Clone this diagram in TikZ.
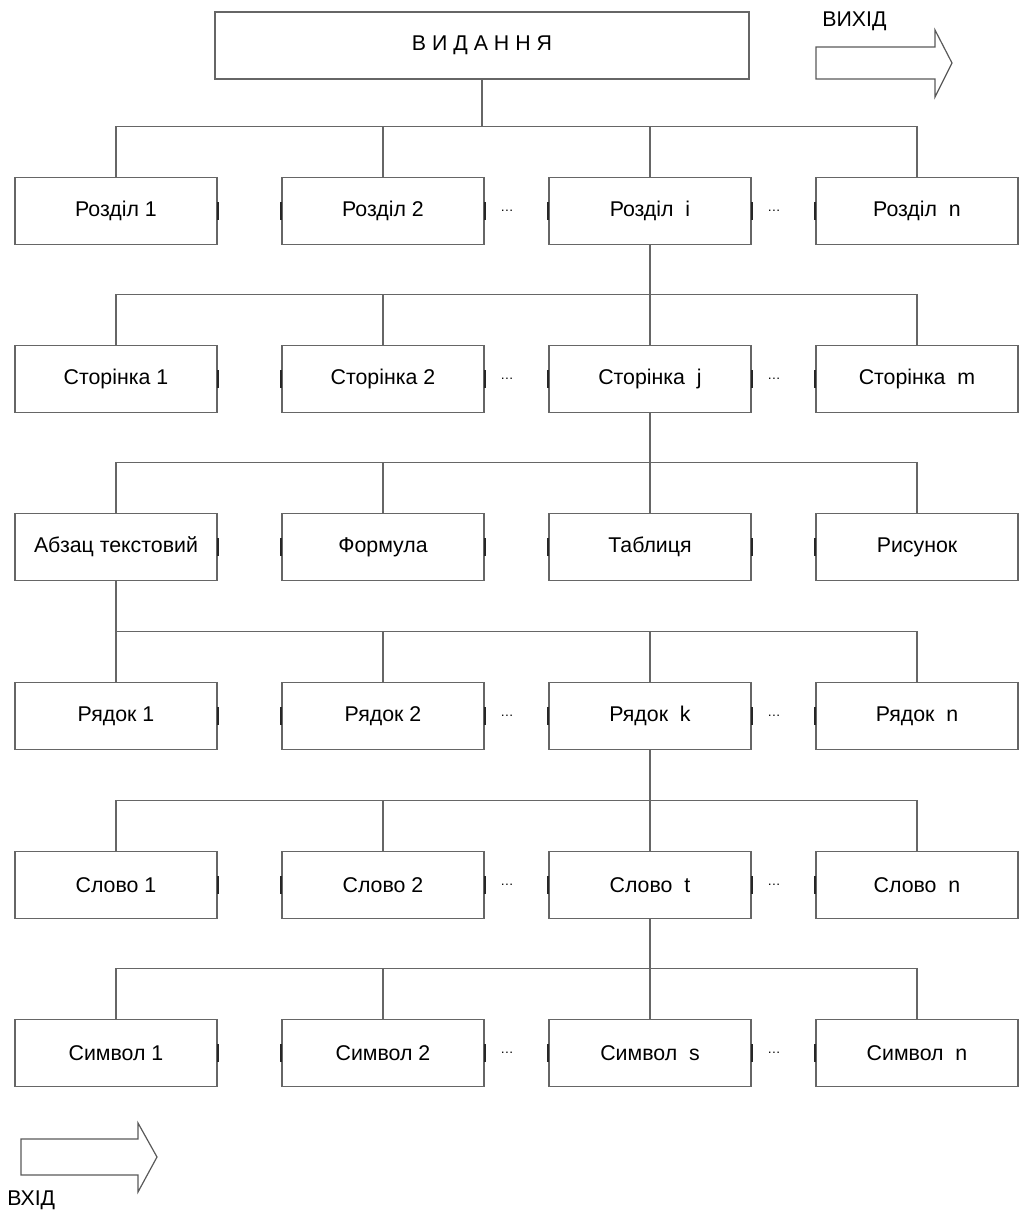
\documentclass[tikz,border=0pt]{standalone}
\usepackage{fontspec}
\setmainfont{Liberation Sans}
\usepackage{tikz}
\usetikzlibrary{calc}
\tikzstyle{unit} = [rectangle, font=\fontsize{16}{19}\selectfont, minimum width=151.5pt, minimum height=50.25pt, inner sep=0pt, text centered, draw=black!60, line width=0.9pt]
\tikzstyle{top} = [unit, minimum width=400.5pt]
\tikzstyle{sidemark} = [draw=black!85, line width=1.6pt]
\tikzstyle{markE} = [append after command={([yshift=-6.4pt]\tikzlastnode.east) edge[sidemark] ([yshift=6.4pt]\tikzlastnode.east)}]
\tikzstyle{markW} = [append after command={([yshift=-6.4pt]\tikzlastnode.west) edge[sidemark] ([yshift=6.4pt]\tikzlastnode.west)}]
\tikzstyle{dots} = [font=\fontsize{10}{12}\selectfont, inner sep=0pt]
\tikzstyle{link} = [draw=black!60, line width=0.8pt]
\tikzstyle{bigarrow} = [draw=black!65, line width=0.9pt, line join=miter]
\tikzstyle{caption} = [font=\fontsize{16}{19}\selectfont, anchor=west, inner sep=0pt]

\begin{document}
\begin{tikzpicture}[x=0.75pt, y=-0.75pt, node distance=200.25pt]
\useasboundingbox (0,0) rectangle (1021,1211);

\node (book) [top] at (482,45.5) {В И Д А Н Н Я};

% row: sections
\node (sec1) [unit, markE] at (116,211) {Розділ 1};
\node (sec2) [unit, markW, markE, right of=sec1] {Розділ 2};
\node (seci) [unit, markW, markE, right of=sec2] {Розділ\ \ i};
\node (secn) [unit, markW, right of=seci] {Розділ\ \ n};
% row: pages
\node (pg1) [unit, markE] at (116,379) {Сторінка 1};
\node (pg2) [unit, markW, markE, right of=pg1] {Сторінка 2};
\node (pgj) [unit, markW, markE, right of=pg2] {Сторінка\ \ j};
\node (pgm) [unit, markW, right of=pgj] {Сторінка\ \ m};
% row: page elements
\node (para) [unit, markE] at (116,547) {Абзац текстовий};
\node (formula) [unit, markW, markE, right of=para] {Формула};
\node (table) [unit, markW, markE, right of=formula] {Таблиця};
\node (figure) [unit, markW, right of=table] {Рисунок};
% row: lines
\node (ln1) [unit, markE] at (116,716) {Рядок 1};
\node (ln2) [unit, markW, markE, right of=ln1] {Рядок 2};
\node (lnk) [unit, markW, markE, right of=ln2] {Рядок\ \ k};
\node (lnn) [unit, markW, right of=lnk] {Рядок\ \ n};
% row: words
\node (wd1) [unit, markE] at (116,885) {Слово 1};
\node (wd2) [unit, markW, markE, right of=wd1] {Слово 2};
\node (wdt) [unit, markW, markE, right of=wd2] {Слово\ \ t};
\node (wdn) [unit, markW, right of=wdt] {Слово\ \ n};
% row: symbols
\node (sym1) [unit, markE] at (116,1053) {Символ 1};
\node (sym2) [unit, markW, markE, right of=sym1] {Символ 2};
\node (syms) [unit, markW, markE, right of=sym2] {Символ\ \ s};
\node (symn) [unit, markW, right of=syms] {Символ\ \ n};

% dots between boxes
\node (secA) [dots] at ($(sec2.east)!0.35!(seci.west)$) {\dots};
\node (secB) [dots] at ($(seci.east)!0.35!(secn.west)$) {\dots};
\node (pgA) [dots] at ($(pg2.east)!0.35!(pgj.west)$) {\dots};
\node (pgB) [dots] at ($(pgj.east)!0.35!(pgm.west)$) {\dots};
\node (lnA) [dots] at ($(ln2.east)!0.35!(lnk.west)$) {\dots};
\node (lnB) [dots] at ($(lnk.east)!0.35!(lnn.west)$) {\dots};
\node (wdA) [dots] at ($(wd2.east)!0.35!(wdt.west)$) {\dots};
\node (wdB) [dots] at ($(wdt.east)!0.35!(wdn.west)$) {\dots};
\node (symA) [dots] at ($(sym2.east)!0.35!(syms.west)$) {\dots};
\node (symB) [dots] at ($(syms.east)!0.35!(symn.west)$) {\dots};

% tree
\draw [link] (sec1.north) -- ++(0,-50) coordinate (bus1) -| (secn.north);
\draw [link] (sec2.north) -- (sec2.north |- bus1);
\draw [link] (seci.north) -- (seci.north |- bus1);
\draw [link] (book) -- (book |- bus1);

\draw [link] (pg1.north) -- ++(0,-50) coordinate (bus2) -| (pgm.north);
\draw [link] (pg2.north) -- (pg2.north |- bus2);
\draw [link] (seci) -- (pgj);

\draw [link] (para.north) -- ++(0,-50) coordinate (bus3) -| (figure.north);
\draw [link] (formula.north) -- (formula.north |- bus3);
\draw [link] (pgj) -- (table);

\draw [link] (ln1.north) -- ++(0,-50) coordinate (bus4) -| (lnn.north);
\draw [link] (ln2.north) -- (ln2.north |- bus4);
\draw [link] (lnk.north) -- (lnk.north |- bus4);
\draw [link] (para) -- (ln1);

\draw [link] (wd1.north) -- ++(0,-50) coordinate (bus5) -| (wdn.north);
\draw [link] (wd2.north) -- (wd2.north |- bus5);
\draw [link] (lnk) -- (wdt);

\draw [link] (sym1.north) -- ++(0,-50) coordinate (bus6) -| (symn.north);
\draw [link] (sym2.north) -- (sym2.north |- bus6);
\draw [link] (wdt) -- (syms);

% output / input arrows
\node (outlbl) [caption] at (822,21) {ВИХІД};
\draw [bigarrow] (816,47) -- (935,47) -- (935,30) -- (952,63) -- (935,97) -- (935,79) -- (816,79) -- cycle;
\node (inlbl) [caption] at (7,1200) {ВХІД};
\draw [bigarrow] (21,1139) -- (138,1139) -- (138,1123) -- (157,1157) -- (138,1192) -- (138,1175) -- (21,1175) -- cycle;
\end{tikzpicture}
\end{document}
